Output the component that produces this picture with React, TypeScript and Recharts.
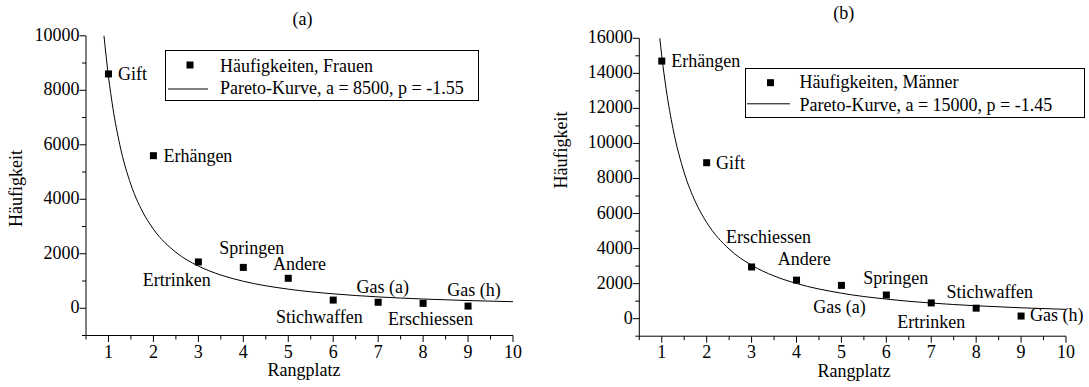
import React from 'react';
import { ComposedChart, XAxis, YAxis, Scatter, Line, Legend } from 'recharts';

// ---------- data ----------
const ranks = [1, 2, 3, 4, 5, 6, 7, 8, 9];

const categoriesFrauen = ['Gift', 'Erhängen', 'Ertrinken', 'Springen', 'Andere', 'Stichwaffen', 'Gas (a)', 'Erschiessen', 'Gas (h)'];
const valuesFrauen = [8600, 5600, 1700, 1500, 1100, 300, 220, 180, 80];

const categoriesMaenner = ['Erhängen', 'Gift', 'Erschiessen', 'Andere', 'Gas (a)', 'Springen', 'Ertrinken', 'Stichwaffen', 'Gas (h)'];
const valuesMaenner = [14700, 8900, 2950, 2200, 1900, 1350, 900, 600, 150];

// Pareto curves
const curveXFrauen = [0.9, 1, 1.1, 1.25, 1.5, 1.75, 2, 2.5, 3, 3.5, 4, 5, 6, 7, 8, 9, 10];
const curveYFrauen = [10000, 8500, 7333, 6015, 4534, 3571, 2903, 2054, 1549, 1219, 991, 701, 529, 417, 339, 282, 240];
const curveXMaenner = [0.957, 1, 1.1, 1.25, 1.5, 1.75, 2, 2.5, 3, 3.5, 4, 5, 6, 7, 8, 9, 10];
const curveYMaenner = [16000, 15000, 13064, 10854, 8333, 6663, 5490, 3973, 3050, 2439, 2010, 1454, 1116, 892, 736, 620, 532];

const xTicks = [0.5, 1, 1.5, 2, 2.5, 3, 3.5, 4, 4.5, 5, 5.5, 6, 6.5, 7, 7.5, 8, 8.5, 9, 9.5, 10];
const yTicksFrauen = [-1000, 0, 1000, 2000, 3000, 4000, 5000, 6000, 7000, 8000, 9000, 10000];
const yTicksMaenner = [-1000, 0, 1000, 2000, 3000, 4000, 5000, 6000, 7000, 8000, 9000, 10000, 11000, 12000, 13000, 14000, 15000, 16000];

const legendPointsFrauen = 'Häufigkeiten, Frauen';
const legendCurveFrauen = 'Pareto-Kurve, a = 8500, p = -1.55';
const legendPointsMaenner = 'Häufigkeiten, Männer';
const legendCurveMaenner = 'Pareto-Kurve, a = 15000, p = -1.45';

// ---------- layout (positions / styles only) ----------
const FONT = 'Liberation Serif, Times New Roman, Times, DejaVu Serif, serif';
const FS = 18;
const TXT: React.CSSProperties = { fontFamily: FONT, fontSize: FS, fill: '#000' };

type Place = { dx: number; dy: number; anchor: 'start' | 'middle' | 'end' };
const placeFrauen: Place[] = [
  { dx: 9.5, dy: 0, anchor: 'start' },
  { dx: 10, dy: 0, anchor: 'start' },
  { dx: -21.6, dy: 18, anchor: 'middle' },
  { dx: 8.4, dy: -19, anchor: 'middle' },
  { dx: 11.3, dy: -14, anchor: 'middle' },
  { dx: -13.8, dy: 16.7, anchor: 'middle' },
  { dx: 4.7, dy: -15, anchor: 'middle' },
  { dx: 7.4, dy: 16, anchor: 'middle' },
  { dx: 6, dy: -16, anchor: 'middle' },
];
const placeMaenner: Place[] = [
  { dx: 9.5, dy: 0, anchor: 'start' },
  { dx: 9.4, dy: 0, anchor: 'start' },
  { dx: 17, dy: -30, anchor: 'middle' },
  { dx: 7.8, dy: -21, anchor: 'middle' },
  { dx: -2, dy: 22, anchor: 'middle' },
  { dx: 9.5, dy: -17, anchor: 'middle' },
  { dx: 0, dy: 19, anchor: 'middle' },
  { dx: 13.6, dy: -16, anchor: 'middle' },
  { dx: 9, dy: -1, anchor: 'start' },
];

const XTick = (props: any) => {
  const { x, y, payload } = props;
  const v = payload.value;
  const major = Number.isInteger(v);
  return (
    <g>
      <line x1={x} x2={x} y1={y} y2={y + (major ? 6.5 : 4)} stroke="#000" strokeWidth={1} />
      {major && (
        <text x={x} y={y + 22} textAnchor="middle" style={TXT}>
          {v}
        </text>
      )}
    </g>
  );
};

const YTick = (props: any) => {
  const { x, y, payload } = props;
  const v = payload.value;
  const major = v % 2000 === 0;
  return (
    <g>
      <line x1={x} x2={x - (major ? 6.5 : 4)} y1={y} y2={y} stroke="#000" strokeWidth={1} />
      {major && v >= 0 && (
        <text x={x - 6.5} y={y + 5} textAnchor="end" style={TXT}>
          {v}
        </text>
      )}
    </g>
  );
};

const makeShape = (place: Place[]) => (props: any) => {
  const { cx, cy, payload } = props;
  const p = place[payload.rank - 1];
  return (
    <g>
      <rect x={cx - 3.5} y={cy - 3.5} width={7} height={7} fill="#000" />
      <text x={cx + p.dx} y={cy + p.dy + 6} textAnchor={p.anchor} style={TXT}>
        {payload.name}
      </text>
    </g>
  );
};

type LegendBox = { left: number; top: number; w: number; h: number; sqX: number; sqY: number; lineX1: number; lineX2: number; lineY: number; textX: number; base1: number; base2: number };

const makeLegend = (b: LegendBox, t1: string, t2: string) => () => (
  <svg width={b.w} height={b.h} style={{ display: 'block' }}>
    <rect x={0.5} y={0.5} width={b.w - 1} height={b.h - 1} fill="#fff" stroke="#000" strokeWidth={1} />
    <rect x={b.sqX - 3.5} y={b.sqY - 3.5} width={7} height={7} fill="#000" />
    <line x1={b.lineX1} x2={b.lineX2} y1={b.lineY} y2={b.lineY} stroke="#000" strokeWidth={1} />
    <text x={b.textX} y={b.base1} style={TXT}>{t1}</text>
    <text x={b.textX} y={b.base2} style={TXT}>{t2}</text>
  </svg>
);

type PanelProps = {
  left: number;
  width: number;
  margin: { top: number; right: number; bottom: number; left: number };
  yWidth: number;
  xHeight: number;
  yDomain: [number, number];
  yTicks: number[];
  cats: string[];
  vals: number[];
  cx: number[];
  cy: number[];
  place: Place[];
  legend: LegendBox;
  leg1: string;
  leg2: string;
  title: string;
  titleX: number;
  titleTop: number;
  yTitle: { x: number; y: number };
  xTitle: { x: number; y: number };
};

const Panel = (p: PanelProps) => {
  const scatterData = ranks.map((r, i) => ({ x: r, y: p.vals[i], name: p.cats[i], rank: r }));
  const curveData = p.cx.map((x, i) => ({ x, y: p.cy[i] }));
  return (
    <div style={{ position: 'absolute', left: p.left, top: 0, width: p.width, height: 387, fontFamily: FONT }}>
      <ComposedChart width={p.width} height={387} margin={p.margin} style={{ fontFamily: FONT }}>
        <XAxis
          type="number"
          dataKey="x"
          domain={[0.5, 10]}
          ticks={xTicks}
          interval={0}
          tickSize={0}
          tickMargin={0}
          tick={<XTick />}
          height={p.xHeight}
          axisLine={{ stroke: '#000', strokeWidth: 1 }}
          tickLine={false}
          label={() => (
            <text x={p.xTitle.x} y={p.xTitle.y} textAnchor="middle" style={TXT}>
              Rangplatz
            </text>
          )}
        />
        <YAxis
          type="number"
          dataKey="y"
          domain={p.yDomain}
          ticks={p.yTicks}
          interval={0}
          tickSize={0}
          tickMargin={0}
          tick={<YTick />}
          width={p.yWidth}
          axisLine={{ stroke: '#000', strokeWidth: 1 }}
          tickLine={false}
          label={() => (
            <text
              x={p.yTitle.x}
              y={p.yTitle.y}
              textAnchor="middle"
              transform={`rotate(-90, ${p.yTitle.x}, ${p.yTitle.y})`}
              style={TXT}
            >
              Häufigkeit
            </text>
          )}
        />
        <Legend
          layout="vertical"
          align="center"
          verticalAlign="middle"
          width={p.legend.w}
          height={p.legend.h}
          wrapperStyle={{ position: 'absolute', left: p.legend.left, top: p.legend.top, width: p.legend.w, height: p.legend.h, margin: 0, padding: 0 }}
          content={makeLegend(p.legend, p.leg1, p.leg2)}
        />
        <Line
          data={curveData}
          dataKey="y"
          type="monotone"
          stroke="#000"
          strokeWidth={1}
          dot={false}
          activeDot={false}
          isAnimationActive={false}
          legendType="line"
        />
        <Scatter data={scatterData} dataKey="y" shape={makeShape(p.place)} isAnimationActive={false} />
      </ComposedChart>
      <div
        style={{
          position: 'absolute',
          left: p.titleX - 50,
          top: p.titleTop,
          width: 100,
          textAlign: 'center',
          fontFamily: FONT,
          fontSize: FS,
          lineHeight: '18px',
          color: '#000',
        }}
      >
        {p.title}
      </div>
    </div>
  );
};

export default function App() {
  return (
    <div style={{ position: 'absolute', left: 0, top: 0, width: 1089, height: 387, background: '#fff', overflow: 'hidden', fontFamily: FONT }}>
      <Panel
        left={0}
        width={545}
        margin={{ top: 35.8, right: 32, bottom: 0, left: 0 }}
        yWidth={86}
        xHeight={51.5}
        yDomain={[-1000, 10000]}
        yTicks={yTicksFrauen}
        cats={categoriesFrauen}
        vals={valuesFrauen}
        cx={curveXFrauen}
        cy={curveYFrauen}
        place={placeFrauen}
        legend={{ left: 165, top: 50, w: 314, h: 51, sqX: 25, sqY: 15, lineX1: 3, lineX2: 43, lineY: 39, textX: 55, base1: 21.5, base2: 43.5 }}
        leg1={legendPointsFrauen}
        leg2={legendCurveFrauen}
        title="(a)"
        titleX={302.5}
        titleTop={10}
        yTitle={{ x: 21.5, y: 188.5 }}
        xTitle={{ x: 304, y: 376 }}
      />
      <Panel
        left={545}
        width={544}
        margin={{ top: 38.3, right: 23, bottom: 0, left: 0 }}
        yWidth={94.3}
        xHeight={50.8}
        yDomain={[-1000, 16000]}
        yTicks={yTicksMaenner}
        cats={categoriesMaenner}
        vals={valuesMaenner}
        cx={curveXMaenner}
        cy={curveYMaenner}
        place={placeMaenner}
        legend={{ left: 200, top: 67.5, w: 340, h: 50, sqX: 25.5, sqY: 14.7, lineX1: 2, lineX2: 45, lineY: 35.8, textX: 54.5, base1: 20, base2: 42.5 }}
        leg1={legendPointsMaenner}
        leg2={legendCurveMaenner}
        title="(b)"
        titleX={298.7}
        titleTop={3.5}
        yTitle={{ x: 21.5, y: 150 }}
        xTitle={{ x: 309, y: 377 }}
      />
    </div>
  );
}
